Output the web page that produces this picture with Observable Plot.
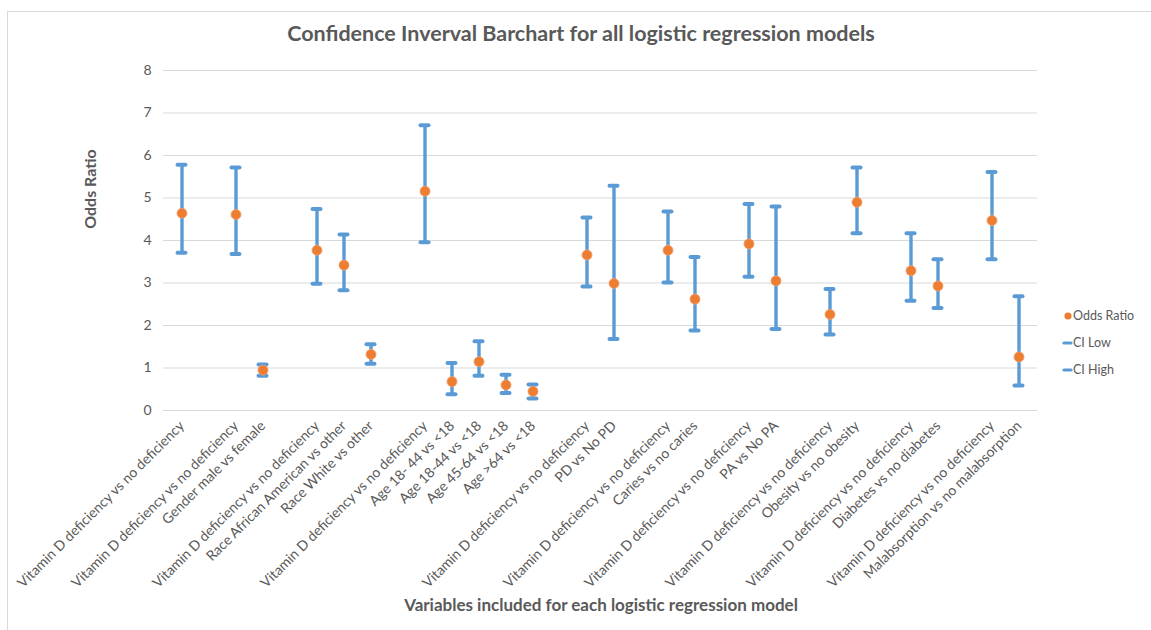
<!DOCTYPE html>
<html>
<head>
<meta charset="utf-8">
<script src="https://cdn.jsdelivr.net/npm/d3@7"></script>
<script src="https://cdn.jsdelivr.net/npm/@observablehq/plot@0.6"></script>
<style>
  body { margin: 0; background: #fff; font-family: Lato, "Open Sans", sans-serif; }
  #wrap { position: relative; width: 1151px; height: 630px; overflow: hidden; }
  #frame { position: absolute; left: 7px; top: 11px; width: 1200px; height: 700px; border-left: 1px solid #d9d9d9; border-top: 1px solid #d9d9d9; }
  #title { position: absolute; left: 0; width: 1162px; top: 20px; text-align: center; font-weight: bold; font-size: 21.5px; color: #595959; }
  #xtitle { position: absolute; left: 0; width: 1202px; top: 594px; text-align: center; font-weight: bold; font-size: 17px; color: #595959; }
  #ytitle { position: absolute; left: 89px; top: 189px; transform: translate(-50%, -50%) rotate(-90deg); font-weight: bold; font-size: 16px; color: #595959; white-space: nowrap; }
  #legend { position: absolute; left: 1060px; top: 308px; font-size: 12.5px; color: #595959; }
  .li { height: 27px; display: flex; align-items: flex-start; }
  .li svg { margin-top: 3px; }
  #chart { position: absolute; left: 0; top: 0; }
</style>
</head>
<body>
<div id="wrap">
  <div id="frame"></div>
  <div id="chart"></div>
  <div id="title"></div>
  <div id="ytitle"></div>
  <div id="xtitle"></div>
  <div id="legend"></div>
</div>
<script>
const categories = [
  "Vitamin D deficiency vs no deficiency", "",
  "Vitamin D deficiency vs no deficiency", "Gender male vs female", "",
  "Vitamin D deficiency vs no deficiency", "Race African American vs other", "Race White vs other", "",
  "Vitamin D deficiency vs no deficiency", "Age 18- 44 vs <18", "Age 18-44 vs <18", "Age 45-64 vs <18", "Age >64 vs <18", "",
  "Vitamin D deficiency vs no deficiency", "PD vs No PD", "",
  "Vitamin D deficiency vs no deficiency", "Caries vs no caries", "",
  "Vitamin D deficiency vs no deficiency", "PA vs No PA", "",
  "Vitamin D deficiency vs no deficiency", "Obesity vs no obesity", "",
  "Vitamin D deficiency vs no deficiency", "Diabetes vs no diabetes", "",
  "Vitamin D deficiency vs no deficiency", "Malabsorption vs no malabsorption"
];
const oddsRatio = [4.64,null,4.61,0.95,null,3.77,3.42,1.32,null,5.16,0.68,1.15,0.60,0.45,null,3.66,2.99,null,3.77,2.62,null,3.92,3.05,null,2.26,4.90,null,3.29,2.93,null,4.47,1.26];
const ciLow     = [3.71,null,3.68,0.82,null,2.98,2.83,1.10,null,3.96,0.38,0.82,0.41,0.28,null,2.92,1.68,null,3.01,1.88,null,3.15,1.92,null,1.79,4.17,null,2.58,2.41,null,3.56,0.59];
const ciHigh    = [5.78,null,5.72,1.08,null,4.74,4.14,1.56,null,6.71,1.12,1.63,0.84,0.61,null,4.54,5.29,null,4.68,3.61,null,4.86,4.80,null,2.86,5.72,null,4.17,3.56,null,5.61,2.69];
const yTicks = [0,1,2,3,4,5,6,7,8];
const seriesNames = ["Odds Ratio", "CI Low", "CI High"];
const titleText = "Confidence Inverval Barchart for all logistic regression models";
const xTitle = "Variables included for each logistic regression model";
const yTitle = "Odds Ratio";

const BLUE = "#5B9BD5", ORANGE = "#ED7D31", GRAY = "#595959";

const rows = categories.map((c, i) => ({i, c, or: oddsRatio[i], lo: ciLow[i], hi: ciHigh[i]}))
  .filter(d => d.or != null);

const chart = Plot.plot({
  width: 1151,
  height: 630,
  marginLeft: 163,
  marginRight: 114,
  marginTop: 70,
  marginBottom: 220,
  style: {fontFamily: "Lato, 'Open Sans', sans-serif", color: GRAY, background: "transparent"},
  x: {type: "band", domain: d3.range(categories.length), padding: 0},
  y: {domain: [0, 8]},
  marks: [
    Plot.gridY(yTicks, {stroke: "#d9d9d9", strokeOpacity: 1, strokeWidth: 1}),
    Plot.axisY(yTicks, {tickSize: 0, tickPadding: 12, fontSize: 14, label: null, fill: GRAY}),
    Plot.axisX({tickFormat: i => categories[i], tickRotate: -45, tickSize: 0, tickPadding: 8, fontSize: 14, label: null, fill: GRAY, dx: 0, dy: 5}),
    Plot.ruleX(rows, {x: "i", y1: "lo", y2: "hi", stroke: BLUE, strokeWidth: 3.4}),
    Plot.tickY(rows, {x: "i", y: "lo", stroke: BLUE, strokeWidth: 4, strokeLinecap: "round", insetLeft: 9.5, insetRight: 9.5}),
    Plot.tickY(rows, {x: "i", y: "hi", stroke: BLUE, strokeWidth: 4, strokeLinecap: "round", insetLeft: 9.5, insetRight: 9.5}),
    Plot.dot(rows, {x: "i", y: "or", r: 5, fill: ORANGE, stroke: "#f0a070", strokeWidth: 0.8})
  ]
});
document.getElementById("chart").appendChild(chart);
document.getElementById("title").textContent = titleText;
document.getElementById("xtitle").textContent = xTitle;
document.getElementById("ytitle").textContent = yTitle;

const legend = document.getElementById("legend");
seriesNames.forEach((name, k) => {
  const row = document.createElement("div");
  row.className = "li";
  const sw = k === 0
    ? `<svg width="13" height="10"><circle cx="8" cy="5" r="3.6" fill="${ORANGE}"/></svg>`
    : `<svg width="13" height="10"><line x1="4" y1="5" x2="11" y2="5" stroke="${BLUE}" stroke-width="3.2" stroke-linecap="round"/></svg>`;
  row.innerHTML = sw + `<span style="line-height:16px">${name}</span>`;
  legend.appendChild(row);
});
</script>
</body>
</html>
